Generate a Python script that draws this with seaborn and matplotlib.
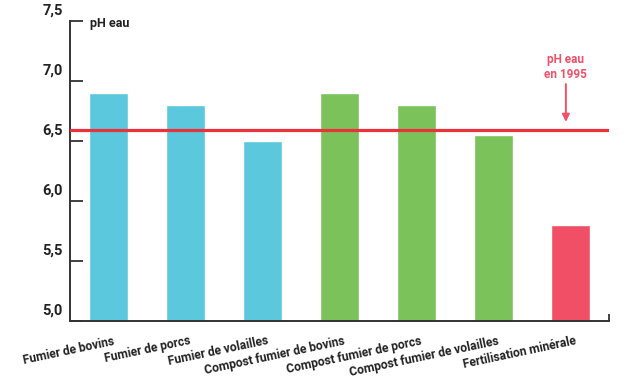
import matplotlib
matplotlib.use("Agg")
import matplotlib.pyplot as plt
import matplotlib.transforms as mtransforms
import seaborn as sns
import pandas as pd

# Data
categories = ["Fumier de bovins", "Fumier de porcs", "Fumier de volailles",
              "Compost fumier de bovins", "Compost fumier de porcs",
              "Compost fumier de volailles", "Fertilisation minérale"]
ph_values = [6.9, 6.8, 6.5, 6.9, 6.8, 6.55, 5.8]
bar_colors = ["#5cc8dd", "#5cc8dd", "#5cc8dd", "#7bc25a", "#7bc25a", "#7bc25a", "#f04f66"]
ph_1995 = 6.59
y_ticks = [5.0, 5.5, 6.0, 6.5, 7.0, 7.5]
y_tick_labels = ["5,0", "5,5", "6,0", "6,5", "7,0", "7,5"]

df = pd.DataFrame({"cat": categories, "ph": ph_values})

sns.set_style("white")
plt.rcParams["font.family"] = ["Roboto", "DejaVu Sans"]

fig = plt.figure(figsize=(6.32, 3.8), dpi=100)
ax = fig.add_axes([70 / 632, 59.5 / 380, 539 / 632, 300 / 380])

sns.barplot(data=df, x="cat", y="ph", hue="cat", palette=bar_colors,
            width=0.505, legend=False, ax=ax, bottom=0, saturation=1)

ax.set_ylim(5.0, 7.5)
ax.set_xlim(-0.5, 6.5)

# reference line
ax.axhline(ph_1995, color="#e8323c", lw=2.3, zorder=3)
ax.text(5.94, 7.0, "pH eau\nen 1995", color="#f0506a", fontsize=8.5,
        fontweight="bold", ha="center", va="bottom", linespacing=1.1)
ax.annotate("", xy=(5.94, 6.655), xytext=(5.94, 6.97),
            arrowprops=dict(arrowstyle="-|>", color="#f0506a", lw=1.4,
                            mutation_scale=11, shrinkA=0, shrinkB=0))

ax.text(-0.24, 7.472, "pH eau", fontsize=9, fontweight="bold",
        color="#222222", ha="left", va="center")

# axes styling
sns.despine(ax=ax)
for side in ["left", "bottom"]:
    ax.spines[side].set_color("#333333")
    ax.spines[side].set_linewidth(1.4)

ax.set_yticks(y_ticks)
ax.set_yticklabels(y_tick_labels, fontsize=10.5, fontweight="bold", color="#222222")
ax.tick_params(axis="y", left=True, direction="in", length=9, width=1.3,
               color="#333333", pad=-2)
offset = mtransforms.ScaledTranslation(-10 / 100, 11 / 100, fig.dpi_scale_trans)
for lab in ax.get_yticklabels():
    lab.set_transform(lab.get_transform() + offset)

ax.set_xticks(range(len(categories)))
ax.set_xticklabels(categories, rotation=12, ha="right", rotation_mode="anchor",
                   fontsize=8.7, fontweight="bold", color="#222222")
ax.tick_params(axis="x", which="major", length=0, pad=10)
xoff = mtransforms.ScaledTranslation(4 / 100, 0, fig.dpi_scale_trans)
for lab in ax.get_xticklabels():
    lab.set_transform(lab.get_transform() + xoff)

ax.set_xticks([6.5], minor=True)
ax.tick_params(axis="x", which="minor", bottom=True, direction="in", length=5,
               width=1.3, color="#333333")

ax.set_xlabel("")
ax.set_ylabel("")

fig.savefig("out.png", dpi=100)
